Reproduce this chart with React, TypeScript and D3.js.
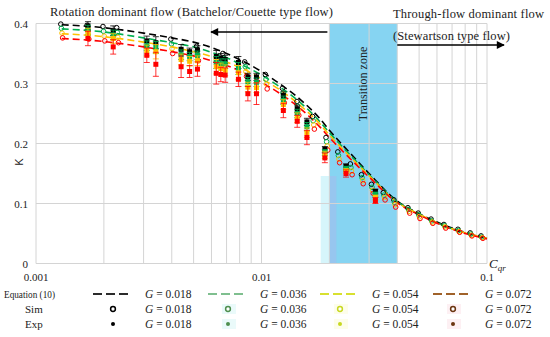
import React from "react";
import * as d3 from "d3";

const W = 550;
const H = 337;

const seriesNames = ["G = 0.018", "G = 0.036", "G = 0.054", "G = 0.072"];
const plotColors = ["#000000", "#00b050", "#ffc000", "#ff0000"];
const legendLineColors = ["#2b2b2b", "#7fbf8f", "#d8e030", "#a0622a"];
const legendDotColors = ["#000000", "#4f8f4f", "#c8d820", "#6b3510"];
const legendBg = ["none", "#eafafa", "#fdfdea", "#fdf0f3"];

const eqX = [0.0013, 0.002, 0.003, 0.004, 0.005, 0.006, 0.007, 0.008, 0.01, 0.012, 0.015, 0.018, 0.02, 0.025, 0.03, 0.04, 0.05, 0.06, 0.07, 0.08, 0.1];
const eqK = [
  [0.398, 0.393, 0.384, 0.376, 0.369, 0.36, 0.35, 0.34, 0.32, 0.3, 0.272, 0.243, 0.222, 0.182, 0.15, 0.104, 0.083, 0.069, 0.059, 0.052, 0.042],
  [0.391, 0.386, 0.376, 0.368, 0.361, 0.352, 0.343, 0.333, 0.314, 0.295, 0.267, 0.238, 0.218, 0.179, 0.148, 0.103, 0.082, 0.068, 0.058, 0.051, 0.042],
  [0.383, 0.378, 0.369, 0.361, 0.353, 0.345, 0.336, 0.327, 0.308, 0.29, 0.262, 0.234, 0.214, 0.176, 0.146, 0.102, 0.082, 0.068, 0.058, 0.051, 0.042],
  [0.375, 0.37, 0.361, 0.353, 0.346, 0.338, 0.33, 0.321, 0.302, 0.284, 0.257, 0.229, 0.21, 0.173, 0.144, 0.101, 0.081, 0.067, 0.057, 0.05, 0.041],
];

const simX = [0.0013, 0.0017, 0.002, 0.0023, 0.004, 0.0052, 0.0068, 0.0085, 0.0105, 0.0125, 0.0145, 0.017, 0.0195, 0.022, 0.025, 0.028, 0.031, 0.035, 0.039, 0.045, 0.05, 0.057, 0.065, 0.075, 0.085, 0.095];
const simK = [
  [0.399, 0.397, 0.395, 0.393, 0.374, 0.362, 0.35, 0.336, 0.315, 0.292, 0.27, 0.245, 0.21, 0.186, 0.166, 0.148, 0.132, 0.118, 0.106, 0.093, 0.084, 0.074, 0.065, 0.057, 0.051, 0.046],
  [0.392, 0.39, 0.387, 0.385, 0.366, 0.354, 0.342, 0.328, 0.307, 0.284, 0.262, 0.238, 0.203, 0.18, 0.16, 0.143, 0.127, 0.114, 0.102, 0.09, 0.081, 0.071, 0.063, 0.055, 0.049, 0.044],
  [0.384, 0.382, 0.379, 0.377, 0.358, 0.346, 0.334, 0.32, 0.299, 0.276, 0.255, 0.231, 0.196, 0.174, 0.154, 0.138, 0.122, 0.11, 0.098, 0.087, 0.078, 0.069, 0.061, 0.053, 0.047, 0.043],
  [0.376, 0.374, 0.371, 0.368, 0.35, 0.338, 0.326, 0.312, 0.291, 0.268, 0.247, 0.224, 0.189, 0.168, 0.148, 0.133, 0.117, 0.106, 0.094, 0.084, 0.075, 0.067, 0.059, 0.052, 0.046, 0.042],
];

const expX = [0.0017, 0.0022, 0.0031, 0.0034, 0.0044, 0.0048, 0.0052, 0.0063, 0.0066, 0.0069, 0.0079, 0.0087, 0.0095, 0.0125, 0.0144, 0.0159, 0.0191, 0.0237, 0.032];
const expK = [
  [0.396, 0.388, 0.371, 0.368, 0.357, 0.353, 0.356, 0.345, 0.342, 0.34, 0.335, 0.311, 0.311, 0.28, 0.258, 0.236, 0.19, 0.162, 0.12],
  [0.389, 0.381, 0.363, 0.36, 0.348, 0.345, 0.347, 0.335, 0.333, 0.333, 0.325, 0.303, 0.302, 0.272, 0.25, 0.228, 0.185, 0.158, 0.115],
  [0.384, 0.375, 0.355, 0.353, 0.34, 0.337, 0.338, 0.328, 0.325, 0.322, 0.318, 0.294, 0.293, 0.265, 0.243, 0.218, 0.181, 0.154, 0.11],
  [0.375, 0.361, 0.347, 0.332, 0.328, 0.32, 0.324, 0.317, 0.315, 0.314, 0.307, 0.283, 0.283, 0.255, 0.237, 0.21, 0.176, 0.15, 0.105],
];
const expErr = [
  [0.007, 0.008, 0.008, 0.01, 0.008, 0.006, 0.007, 0.01, 0.008, 0.007, 0.01, 0.006, 0.006, 0.006, 0.006, 0.006, 0.005, 0.004, 0.004],
  [0.008, 0.008, 0.008, 0.01, 0.008, 0.007, 0.007, 0.01, 0.008, 0.008, 0.01, 0.007, 0.007, 0.007, 0.007, 0.007, 0.005, 0.004, 0.004],
  [0.008, 0.008, 0.009, 0.012, 0.009, 0.008, 0.008, 0.012, 0.009, 0.009, 0.012, 0.008, 0.008, 0.008, 0.008, 0.008, 0.006, 0.004, 0.004],
  [0.012, 0.012, 0.012, 0.02, 0.018, 0.01, 0.012, 0.018, 0.012, 0.012, 0.012, 0.012, 0.018, 0.012, 0.01, 0.012, 0.008, 0.006, 0.005],
];

const yTicks = [0, 0.1, 0.2, 0.3, 0.4];
const yTickLabels = ["0", "0.1", "0.2", "0.3", "0.4"];
const xTickValues = [0.001, 0.01, 0.1];
const xTickLabels = ["0.001", "0.01", "0.1"];
const transitionZone = [0.02, 0.04];
const legendRowLabels = ["Equation (10)", "Sim", "Exp"];

const serif = "'Liberation Serif', 'DejaVu Serif', serif";

export default function App() {
  const x = d3.scaleLog().domain([0.001, 0.1]).range([36, 487]);
  const y = d3.scaleLinear().domain([0, 0.4]).range([263.5, 23.5]);
  const grid = x.ticks();
  const line = d3
    .line<[number, number]>()
    .x((d) => x(d[0]))
    .y((d) => y(d[1]))
    .curve(d3.curveMonotoneX);

  const legendCols = [93, 208, 320, 433];
  const rowsY = [294, 309, 324];
  const rowLabelX = [4, 25, 25];
  const rowLabelLen = [51, 0, 0];

  return (
    <svg
      width={W}
      height={H}
      viewBox={`0 0 ${W} ${H}`}
      style={{ position: "absolute", left: 0, top: 0, background: "#fff" }}
    >
      <defs>
        <marker id="ah" viewBox="0 0 10 10" refX="9" refY="5" markerWidth="9" markerHeight="8" markerUnits="userSpaceOnUse" orient="auto">
          <path d="M0,0 L10,5 L0,10 z" fill="#000" />
        </marker>
      </defs>
      {/* transition zone */}
      <rect x={x(0.0183)} y={176} width={x(transitionZone[0]) - x(0.0183)} height={y(0) - 176} fill="#d6f5fb" />
      <rect
        x={x(transitionZone[0])}
        y={y(0.4)}
        width={x(transitionZone[1]) - x(transitionZone[0])}
        height={y(0) - y(0.4)}
        fill="#86d4f2"
      />
      <rect x={x(transitionZone[0])} y={176} width={7} height={y(0) - 176} fill="#9ec0ee" opacity={0.7} />
      {/* grid */}
      {grid.map((t, i) => (
        <line key={"gx" + i} x1={x(t)} x2={x(t)} y1={y(0.4)} y2={y(0)} stroke="#d4d4d4" strokeWidth={1} />
      ))}
      {yTicks.map((t, i) => (
        <line key={"gy" + i} x1={x(0.001)} x2={x(0.1)} y1={y(t)} y2={y(t)} stroke="#d4d4d4" strokeWidth={1} />
      ))}
      {/* tick labels */}
      {yTicks.map((t, i) => (
        <text key={"yl" + i} x={28} y={y(t) + 4} textAnchor="end" fontFamily={serif} fontSize={11} fill="#222">
          {yTickLabels[i]}
        </text>
      ))}
      {xTickValues.map((t, i) => (
        <text key={"xl" + i} x={x(t)} y={281} textAnchor="middle" fontFamily={serif} fontSize={11} fill="#222">
          {xTickLabels[i]}
        </text>
      ))}
      <text transform="translate(23,162) rotate(-90)" textAnchor="middle" fontFamily="'Liberation Sans', sans-serif" fontSize={11} fill="#222">
        K
      </text>
      <text x={489} y={268} fontFamily={serif} fontSize={13} fontStyle="italic" fill="#222">
        C<tspan fontSize={9} dy={3}>qr</tspan>
      </text>
      <text transform={`translate(${(x(transitionZone[0]) + x(transitionZone[1])) / 2 + 4},84) rotate(-90)`} textAnchor="middle" fontFamily={serif} fontSize={12} fill="#222">
        Transition zone
      </text>
      {/* annotations */}
      <text x={50} y={16} fontFamily={serif} fontSize={12.5} fill="#222" textLength={283} lengthAdjust="spacing">
        Rotation dominant flow (Batchelor/Couette type flow)
      </text>
      <text x={393} y={18} fontFamily={serif} fontSize={12.5} fill="#222" textLength={151} lengthAdjust="spacing">
        Through-flow dominant flow
      </text>
      <text x={393} y={40} fontFamily={serif} fontSize={12.5} fill="#222" textLength={117} lengthAdjust="spacing">
        (Stewartson type flow)
      </text>
      <line x1={x(transitionZone[0]) - 2} x2={211} y1={32} y2={32} stroke="#000" strokeWidth={1.5} markerEnd="url(#ah)" />
      <line x1={x(transitionZone[1])} x2={504} y1={45} y2={45} stroke="#000" strokeWidth={1.5} markerEnd="url(#ah)" />
      {/* equation lines */}
      {eqK.map((ks, s) => (
        <path
          key={"eq" + s}
          d={line(eqX.map((v, i) => [v, ks[i]] as [number, number])) || ""}
          fill="none"
          stroke={plotColors[s]}
          strokeWidth={1.6}
          strokeDasharray="7,4"
        />
      ))}
      {/* sim circles */}
      {simK.map((ks, s) =>
        simX.map((v, i) => (
          <circle key={"sim" + s + "-" + i} cx={x(v) + (s - 1.5) * 0.6} cy={y(ks[i])} r={2.3} fill="none" stroke={plotColors[s]} strokeWidth={1} />
        ))
      )}
      {/* exp points */}
      {expK.map((ks, s) =>
        expX.map((v, i) => {
          const cx = x(v);
          const e = expErr[s][i];
          return (
            <g key={"exp" + s + "-" + i}>
              <line x1={cx} x2={cx} y1={y(ks[i] + e)} y2={y(ks[i] - e)} stroke={plotColors[s]} strokeWidth={0.8} />
              <line x1={cx - 3} x2={cx + 3} y1={y(ks[i] + e)} y2={y(ks[i] + e)} stroke={plotColors[s]} strokeWidth={0.8} />
              <line x1={cx - 3} x2={cx + 3} y1={y(ks[i] - e)} y2={y(ks[i] - e)} stroke={plotColors[s]} strokeWidth={0.8} />
              <rect x={cx - 2.5} y={y(ks[i]) - 2.5} width={5} height={5} fill={plotColors[s]} />
            </g>
          );
        })
      )}
      {/* legend */}
      {legendRowLabels.map((l, r) => (
        <text
          key={"lr" + r}
          x={rowLabelX[r]}
          y={rowsY[r] + 4}
          fontFamily={serif}
          fontSize={11}
          fill="#222"
          {...(rowLabelLen[r] ? { textLength: rowLabelLen[r], lengthAdjust: "spacingAndGlyphs" } : {})}
        >
          {l}
        </text>
      ))}
      {seriesNames.map((n, s) => {
        const cx = legendCols[s];
        return (
          <g key={"lg" + s}>
            {legendBg[s] !== "none" && (
              <>
                <rect x={cx + 14} y={rowsY[1] - 5} width={14} height={10} fill={legendBg[s]} />
                <rect x={cx + 14} y={rowsY[2] - 5} width={14} height={10} fill={legendBg[s]} />
              </>
            )}
            <line x1={cx} x2={cx + 38} y1={rowsY[0]} y2={rowsY[0]} stroke={legendLineColors[s]} strokeWidth={1.8} strokeDasharray="9,4" />
            <circle cx={cx + 20} cy={rowsY[1]} r={2.4} fill="#fff" stroke={legendDotColors[s]} strokeWidth={1.5} />
            <circle cx={cx + 20} cy={rowsY[2]} r={2} fill={legendDotColors[s]} />
            {rowsY.map((ry, r) => (
              <text key={"lt" + r} x={cx + 52} y={ry + 4} fontFamily={serif} fontSize={11.5} fill="#222">
                <tspan fontStyle="italic">G</tspan>
                {" = " + n.slice(4)}
              </text>
            ))}
          </g>
        );
      })}
    </svg>
  );
}
